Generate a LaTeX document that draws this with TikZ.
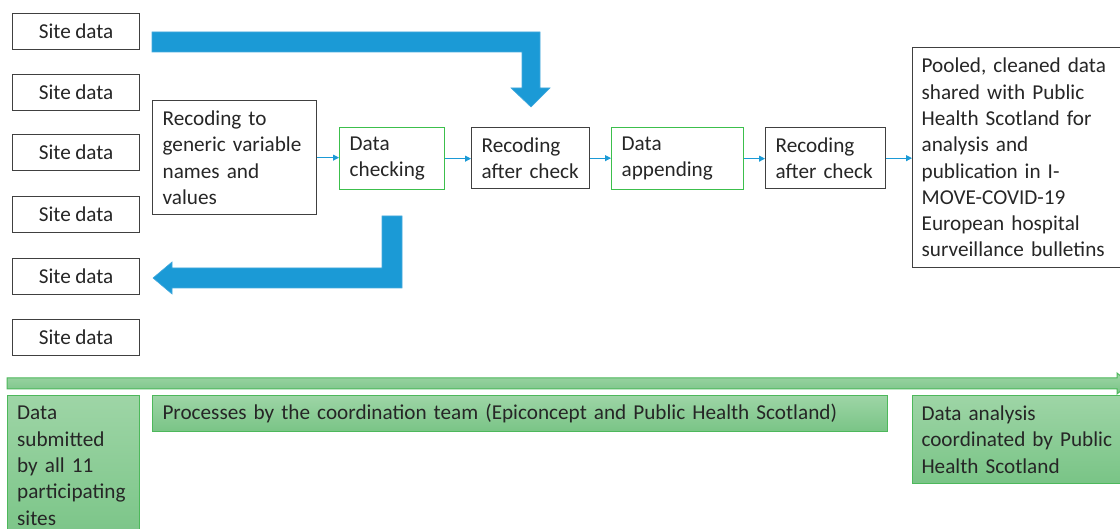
\documentclass[tikz,border=0pt]{standalone}
\usepackage{fontspec}
\setmainfont[WordSpace=0.92]{Carlito}
\usetikzlibrary{arrows.meta}
\definecolor{arrblue}{HTML}{1B9AD6}
\definecolor{arredge}{HTML}{45A9DD}
\definecolor{boxgray}{HTML}{404040}
\definecolor{chkgreen}{HTML}{3CBF4C}
\definecolor{gtop}{HTML}{9ED5A6}
\definecolor{gbot}{HTML}{79C486}
\definecolor{gborder}{HTML}{4DB85B}
\definecolor{txtc}{HTML}{262626}
\tikzset{
  basenode/.style={font=\fontsize{21.2}{26.3}\selectfont, text=txtc, inner xsep=10pt, inner ysep=0pt, anchor=north west},
  bbox/.style={basenode, draw=boxgray, line width=1.3pt},
  cbox/.style={basenode, draw=chkgreen, line width=1.3pt},
  gbox/.style={basenode, draw=gborder, line width=1pt, top color=gtop, bottom color=gbot},
  sitebox/.style={bbox, minimum width=127pt, minimum height=36pt, align=center},
  conn/.style={draw=arrblue, line width=1pt, -{Triangle[length=6pt,width=6pt]}},
  blockarrow/.style={fill=arrblue, draw=arredge, line width=0.6pt},
  greenarrow/.style={draw=gborder, line width=1pt, top color=gtop, bottom color=gbot}
}
\begin{document}
\begin{tikzpicture}[x=1pt,y=-1pt]
\useasboundingbox (0,0) rectangle (1120,529);
% site data boxes
\node[sitebox] (s1) at (12,13) {Site data};
\node[sitebox] (s2) at (12,74) {Site data};
\node[sitebox] (s3) at (12,134) {Site data};
\node[sitebox] (s4) at (12,196) {Site data};
\node[sitebox] (s5) at (12,258) {Site data};
\node[sitebox] (s6) at (12,319) {Site data};
% process boxes
\node[bbox, text width=144pt, minimum height=114pt, align=left] (rec) at (152,100) {Recoding to\\generic variable\\names and\\values};
\node[cbox, text width=85pt, minimum height=62pt, align=left] (chk) at (339,127) {Data\\checking};
\node[bbox, text width=98pt, minimum height=61pt, align=left] (rac1) at (471,127) {Recoding\\after check};
\node[cbox, text width=112pt, minimum height=62pt, align=left] (app) at (611,127) {Data\\appending};
\node[bbox, text width=100pt, minimum height=61pt, align=left] (rac2) at (765,127) {Recoding\\after check};
\node[bbox, text width=200pt, minimum height=220pt, align=left, inner xsep=9pt] (pool) at (912,47) {Pooled, cleaned data\\shared with Public\\Health Scotland for\\analysis and\\publication in I-\\MOVE-COVID-19\\European hospital\\surveillance bulletins};
% connectors
\draw[conn] (rec.east) -- (rec.east -| chk.west);
\draw[conn] (chk.east) -- (chk.east -| rac1.west);
\draw[conn] (rac1.east) -- (rac1.east -| app.west);
\draw[conn] (app.east) -- (app.east -| rac2.west);
\draw[conn] (rac2.east) -- (rac2.east -| pool.west);
% block arrows
\draw[blockarrow] (152,32) -- (540,32) -- (540,88) -- (550,88) -- (531,107) -- (511,88) -- (522,88) -- (522,52) -- (152,52) -- cycle;
\draw[blockarrow] (382,216) -- (402,216) -- (402,288) -- (172,288) -- (172,294) -- (153,278) -- (172,262) -- (172,268) -- (382,268) -- cycle;
% green timeline arrow
\draw[greenarrow] (7,378) -- (1117,378) -- (1117,373) -- (1130,383.5) -- (1117,394) -- (1117,389) -- (7,389) -- cycle;
% bottom green boxes
\node[gbox, minimum width=132pt, minimum height=150pt] (sub) at (7,395) {};
\node[font=\fontsize{21.2}{26.3}\selectfont, text=txtc, inner sep=0pt, text width=118pt, align=left, anchor=base west] (subtext) at (17,420) {Data\\submitted\\by all 11\\participating\\sites};
\node[gbox, text width=715pt, minimum height=36pt, align=left] (proc) at (152,395) {Processes by the coordination team (Epiconcept and Public Health Scotland)};
\node[gbox, text width=200pt, minimum height=88pt, align=left, inner xsep=9pt] (ana) at (912,395) {Data analysis\\coordinated by Public\\Health Scotland};
\end{tikzpicture}
\end{document}
